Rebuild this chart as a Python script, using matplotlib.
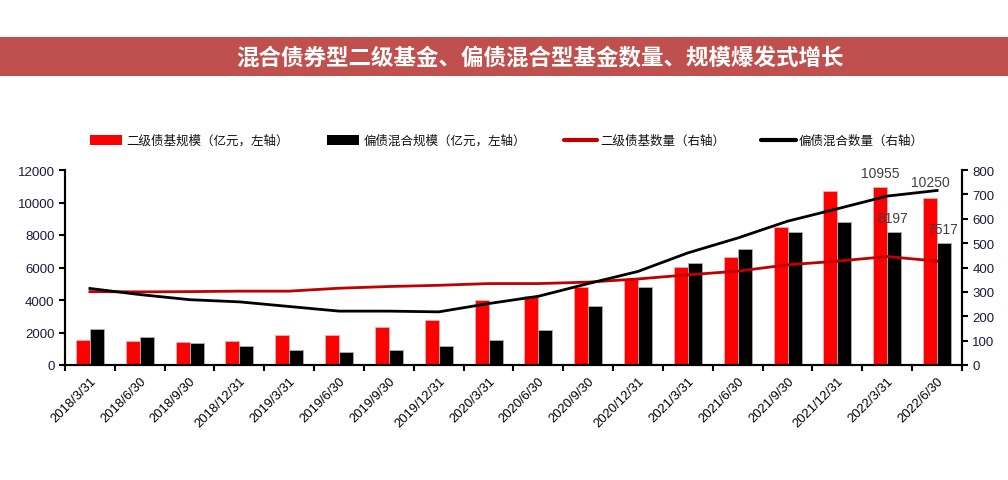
import matplotlib
matplotlib.use("Agg")
import matplotlib.pyplot as plt
import numpy as np
from matplotlib.patches import Rectangle
from matplotlib.lines import Line2D

plt.rcParams['font.family'] = ['Liberation Sans', 'Noto Sans CJK SC', 'DejaVu Sans']

dates = ["2018/3/31", "2018/6/30", "2018/9/30", "2018/12/31", "2019/3/31", "2019/6/30",
         "2019/9/30", "2019/12/31", "2020/3/31", "2020/6/30", "2020/9/30", "2020/12/31",
         "2021/3/31", "2021/6/30", "2021/9/30", "2021/12/31", "2022/3/31", "2022/6/30"]
erji_scale = [1560, 1460, 1440, 1460, 1850, 1830, 2340, 2790, 4030, 4270, 4790, 5300,
              6020, 6620, 8470, 10680, 10955, 10250]
pianzhai_scale = [2240, 1730, 1380, 1190, 945, 780, 945, 1150, 1510, 2180, 3620, 4830,
                  6250, 7150, 8200, 8790, 8197, 7517]
erji_count = [301, 300, 301, 303, 303, 315, 322, 327, 334, 334, 340, 353,
              370, 385, 411, 426, 445, 426]
pianzhai_count = [314, 289, 268, 259, 240, 221, 221, 218, 252, 282, 334, 384,
                  460, 521, 590, 641, 693, 716]

title = "混合债券型二级基金、偏债混合型基金数量、规模爆发式增长"
legend_labels = ["二级债基规模（亿元，左轴）", "偏债混合规模（亿元，左轴）",
                 "二级债基数量（右轴）", "偏债混合数量（右轴）"]

RED = "#FF0000"
LINE_RED = "#C00000"
TICK_COLOR = "#1a1a40"

fig = plt.figure(figsize=(10.08, 4.81), dpi=100)

# Title banner
fig.patches.append(Rectangle((0, 1 - 77/481), 1, 39/481, transform=fig.transFigure,
                             facecolor="#C0504D", edgecolor="none", zorder=0))
fig.text(540/1008, 1 - 58/481, title, color="white", fontsize=16.2, fontweight="bold",
         ha="center", va="center", family=['Noto Sans CJK SC', 'DejaVu Sans'])

ax = fig.add_axes([65/1008, 1 - 366/481, (962-65)/1008, (366-171)/481])
ax2 = ax.twinx()

x = np.arange(len(dates))
w = 0.28
ax.bar(x - w/2, erji_scale, width=w, color=RED, edgecolor="#F4B0B0", linewidth=0.6, zorder=2)
ax.bar(x + w/2, pianzhai_scale, width=w, color="black", edgecolor="#B0B0B0", linewidth=0.6, zorder=2)

ax2.plot(x, erji_count, color=LINE_RED, lw=2, zorder=3)
ax2.plot(x, pianzhai_count, color="black", lw=2, zorder=3)

ax.set_xlim(-0.5, len(dates) - 0.5)
ax.set_ylim(0, 12000)
ax2.set_ylim(0, 800)
ax.set_yticks(np.arange(0, 12001, 2000))
ax2.set_yticks(np.arange(0, 801, 100))

ax.set_xticks(x)
ax.set_xticklabels(dates, rotation=45, ha="right", rotation_mode="anchor", fontsize=9.4)
for lbl in ax.get_xticklabels():
    lbl.set_x(lbl.get_position()[0])
ax.set_xticks(np.arange(-0.5, len(dates), 1), minor=True)
ax.tick_params(axis="x", which="major", length=0, pad=7)
ax.tick_params(axis="x", which="minor", length=4, width=1.5, direction="out")
ax.tick_params(axis="y", length=4, width=1.5, direction="out", labelsize=9.5, labelcolor=TICK_COLOR)
ax2.tick_params(axis="y", length=4, width=1.5, direction="out", labelsize=9.5, labelcolor=TICK_COLOR)

for a in (ax, ax2):
    a.spines["top"].set_visible(False)
    for s in ("left", "right", "bottom"):
        a.spines[s].set_linewidth(1.5)
ax.patch.set_visible(False)

# Annotations
ANN = "#404040"
ax.annotate(f"{erji_scale[16]}", (x[16] - w/2, erji_scale[16]), xytext=(0, 5),
            textcoords="offset points", ha="center", va="bottom", fontsize=10, color=ANN)
ax.annotate(f"{erji_scale[17]}", (x[17] - w/2, erji_scale[17]), xytext=(0, 7),
            textcoords="offset points", ha="center", va="bottom", fontsize=10, color=ANN)
ax2.annotate(f"{pianzhai_scale[16]}", (x[16] + w/2, pianzhai_scale[16] / 15), xytext=(-1, 5),
             textcoords="offset points", ha="center", va="bottom", fontsize=10, color=ANN)
ax2.annotate(f"{pianzhai_scale[17]}", (x[17] + w/2, pianzhai_scale[17] / 15), xytext=(-1, 5),
             textcoords="offset points", ha="center", va="bottom", fontsize=10, color=ANN)

# Legend (manual)
ly = 1 - 141/481
lh = 10/481
fig.patches.append(Rectangle((90/1008, ly - lh/2), 32/1008, lh, transform=fig.transFigure,
                             facecolor=RED, edgecolor="none"))
fig.patches.append(Rectangle((327/1008, ly - lh/2), 32/1008, lh, transform=fig.transFigure,
                             facecolor="black", edgecolor="none"))
fig.lines.append(Line2D([564/1008, 597/1008], [ly, ly], transform=fig.transFigure,
                        color=LINE_RED, lw=3, solid_capstyle="round"))
fig.lines.append(Line2D([761/1008, 796/1008], [ly, ly], transform=fig.transFigure,
                        color="black", lw=3, solid_capstyle="round"))
for xpos, lab in zip([126, 364, 600, 799], legend_labels):
    fig.text(xpos/1008, ly, lab, fontsize=9, va="center", ha="left", color="#111111",
             family=['Noto Sans CJK SC', 'DejaVu Sans'])

fig.savefig("out.png", dpi=100)
